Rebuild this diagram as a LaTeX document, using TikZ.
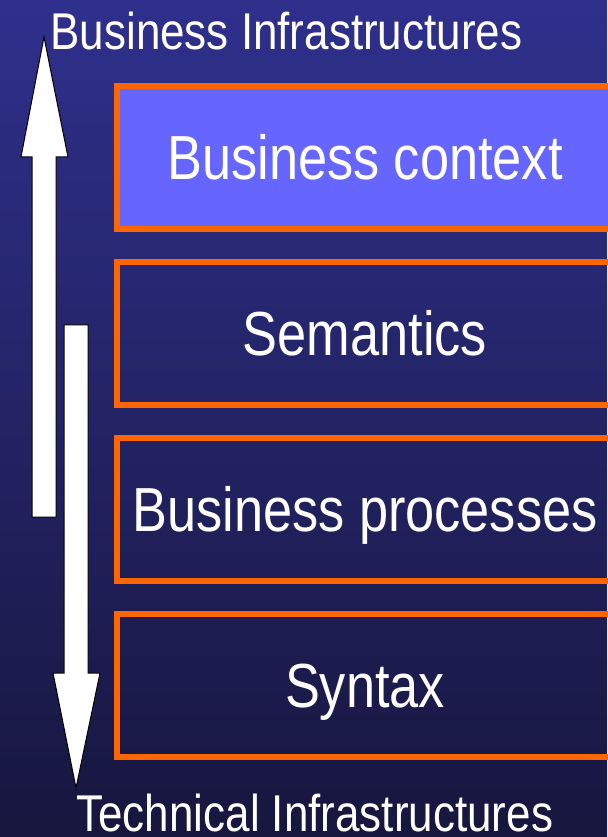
\documentclass[tikz,border=0pt]{standalone}
\usepackage{fontspec}
\setmainfont{Liberation Sans}[FakeStretch=0.84]
\newfontfamily\infrafont{Liberation Sans}[FakeStretch=0.85]
\definecolor{bgtop}{RGB}{47,48,140}
\definecolor{bgbottom}{RGB}{23,22,62}
\definecolor{layerorange}{RGB}{255,102,0}
\definecolor{layerblue}{RGB}{102,102,255}
\tikzset{every picture/.style={line width=0.75pt}}
\tikzset{
	layerbox/.style={draw=layerorange, line width=4.5pt, minimum width=372pt, minimum height=107.25pt, inner sep=0pt, outer sep=0pt, text=white, font=\fontsize{46.7}{48}\selectfont, text height=33pt, text depth=0pt},
	infralabel/.style={text=white, font=\infrafont\fontsize{38.8}{40}\selectfont, inner sep=0pt, text depth=0pt, anchor=base west},
	bigarrow/.style={draw=black, fill=white, line width=0.75pt},
}

\begin{document}
\begin{tikzpicture}[x=0.75pt,y=0.75pt,yscale=-1,xscale=1]
	%Background
	\shade [top color=bgtop, bottom color=bgbottom] (0,0) rectangle (607,837);
	\useasboundingbox (0,0) rectangle (607,837);
	
	%Layers
	\node [layerbox, fill=layerblue] (context) at (365,157.5) {Business context};
	\node [layerbox] (semantics) at (365,333.5) {Semantics};
	\node [layerbox] (processes) at (365,509) {Business processes};
	\node [layerbox] (syntax) at (365,685.5) {Syntax};
	
	% Text Node
	\node [infralabel] (business) at (50,50) {Business Infrastructures};
	% Text Node
	\node [infralabel] (technical) at (76,831) {Technical Infrastructures};
	
	%Up arrow
	\draw [bigarrow] (44,37) -- (68,157) -- (56,157) -- (56,517) -- (32,517) -- (32,157) -- (21,157) -- cycle;
	%Down arrow
	\draw [bigarrow] (76,788) -- (100,673) -- (88,673) -- (88,325) -- (64,325) -- (64,673) -- (53,673) -- cycle;
	
\end{tikzpicture}
\end{document}
